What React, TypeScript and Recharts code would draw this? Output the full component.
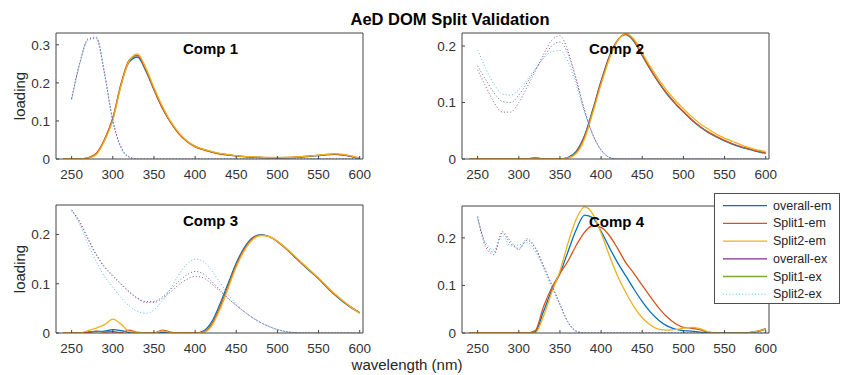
import React from 'react';
import { LineChart, Line, XAxis, YAxis } from 'recharts';

// wavelength grid (nm) shared by all components
const wavelengths = [
  240, 250, 260, 270, 280, 290, 300, 310, 320, 330, 340, 350, 360, 370, 380, 390, 400, 410, 420,
  430, 440, 450, 460, 470, 480, 490, 500, 510, 520, 530, 540, 550, 560, 570, 580, 590, 600,
];
const xTicks = [250, 300, 350, 400, 450, 500, 550, 600];

// Comp 1
const overallEm1 = [0, 0, 0, 0.003, 0.014, 0.05, 0.105, 0.195, 0.255, 0.268, 0.232, 0.182, 0.135, 0.098, 0.068, 0.047, 0.033, 0.025, 0.019, 0.014, 0.011, 0.008, 0.006, 0.005, 0.004, 0.003, 0.003, 0.003, 0.004, 0.005, 0.007, 0.009, 0.011, 0.012, 0.01, 0.006, 0.001];
const split1Em1 = [0, 0, 0, 0.003, 0.015, 0.052, 0.108, 0.198, 0.26, 0.272, 0.235, 0.183, 0.135, 0.097, 0.067, 0.046, 0.032, 0.024, 0.018, 0.013, 0.01, 0.008, 0.006, 0.005, 0.004, 0.003, 0.003, 0.004, 0.005, 0.006, 0.008, 0.01, 0.012, 0.013, 0.011, 0.007, 0.002];
const split2Em1 = [0, 0, 0, 0.002, 0.012, 0.048, 0.102, 0.192, 0.258, 0.276, 0.24, 0.188, 0.14, 0.1, 0.07, 0.048, 0.034, 0.026, 0.02, 0.015, 0.012, 0.009, 0.007, 0.006, 0.005, 0.004, 0.004, 0.004, 0.005, 0.006, 0.008, 0.01, 0.012, 0.014, 0.012, 0.008, 0.002];
const overallEx1 = [null, 0.158, 0.252, 0.314, 0.318, 0.224, 0.1, 0.03, 0.005, 0, 0, 0, 0, 0, 0, 0, 0, 0, 0, 0, 0, 0, 0, 0, 0, 0, 0, 0, 0, 0, 0, 0, 0, 0, 0, 0, 0];
const split1Ex1 = [null, 0.16, 0.254, 0.316, 0.32, 0.226, 0.102, 0.032, 0.006, 0, 0, 0, 0, 0, 0, 0, 0, 0, 0, 0, 0, 0, 0, 0, 0, 0, 0, 0, 0, 0, 0, 0, 0, 0, 0, 0, 0];
const split2Ex1 = [null, 0.155, 0.25, 0.312, 0.316, 0.222, 0.098, 0.028, 0.004, 0, 0, 0, 0, 0, 0, 0, 0, 0, 0, 0, 0, 0, 0, 0, 0, 0, 0, 0, 0, 0, 0, 0, 0, 0, 0, 0, 0];

// Comp 2
const overallEm2 = [0, 0, 0, 0, 0, 0, 0, 0, 0.002, 0, 0, 0, 0.003, 0.014, 0.042, 0.088, 0.138, 0.182, 0.21, 0.22, 0.208, 0.183, 0.158, 0.135, 0.115, 0.098, 0.083, 0.069, 0.057, 0.047, 0.039, 0.032, 0.026, 0.021, 0.017, 0.013, 0.01];
const split1Em2 = [0, 0, 0, 0, 0, 0, 0, 0, 0.002, 0, 0, 0, 0.002, 0.012, 0.04, 0.086, 0.136, 0.18, 0.21, 0.221, 0.209, 0.184, 0.159, 0.136, 0.116, 0.099, 0.084, 0.07, 0.058, 0.048, 0.04, 0.033, 0.027, 0.022, 0.018, 0.014, 0.011];
const split2Em2 = [0, 0, 0, 0, 0, 0, 0, 0, 0.001, 0, 0, 0, 0.002, 0.01, 0.036, 0.082, 0.132, 0.177, 0.209, 0.222, 0.212, 0.188, 0.163, 0.141, 0.121, 0.104, 0.089, 0.075, 0.063, 0.053, 0.044, 0.037, 0.031, 0.025, 0.02, 0.016, 0.013];
const overallEx2 = [null, 0.165, 0.14, 0.117, 0.102, 0.1, 0.113, 0.135, 0.158, 0.18, 0.2, 0.207, 0.185, 0.138, 0.085, 0.043, 0.016, 0.003, 0, 0, 0, 0, 0, 0, 0, 0, 0, 0, 0, 0, 0, 0, 0, 0, 0, 0, 0];
const split1Ex2 = [null, 0.158, 0.128, 0.1, 0.083, 0.083, 0.1, 0.127, 0.155, 0.185, 0.21, 0.218, 0.19, 0.14, 0.086, 0.043, 0.016, 0.003, 0, 0, 0, 0, 0, 0, 0, 0, 0, 0, 0, 0, 0, 0, 0, 0, 0, 0, 0];
const split2Ex2 = [null, 0.193, 0.16, 0.132, 0.115, 0.113, 0.123, 0.14, 0.16, 0.178, 0.19, 0.192, 0.172, 0.13, 0.082, 0.042, 0.015, 0.003, 0, 0, 0, 0, 0, 0, 0, 0, 0, 0, 0, 0, 0, 0, 0, 0, 0, 0, 0];

// Comp 3
const overallEm3 = [0, 0, 0, 0.002, 0.003, 0.004, 0.007, 0.005, 0.001, 0, 0, 0, 0.001, 0, 0, 0, 0, 0.004, 0.022, 0.058, 0.1, 0.142, 0.174, 0.194, 0.2, 0.196, 0.186, 0.172, 0.156, 0.14, 0.125, 0.11, 0.093, 0.077, 0.063, 0.051, 0.041];
const split1Em3 = [0, 0, 0, 0.001, 0.004, 0.002, 0.003, 0.001, 0.006, 0.001, 0, 0, 0.006, 0.002, 0, 0, 0, 0.002, 0.017, 0.052, 0.095, 0.138, 0.171, 0.192, 0.199, 0.196, 0.186, 0.172, 0.157, 0.141, 0.126, 0.111, 0.094, 0.078, 0.064, 0.052, 0.041];
const split2Em3 = [0, 0, 0, 0.005, 0.01, 0.017, 0.028, 0.018, 0.003, 0.001, 0, 0, 0.004, 0.001, 0, 0, 0, 0.001, 0.014, 0.047, 0.09, 0.134, 0.168, 0.19, 0.198, 0.196, 0.187, 0.173, 0.158, 0.142, 0.127, 0.112, 0.095, 0.079, 0.065, 0.052, 0.04];
const overallEx3 = [null, 0.25, 0.226, 0.192, 0.16, 0.135, 0.117, 0.1, 0.084, 0.071, 0.064, 0.064, 0.073, 0.088, 0.105, 0.118, 0.125, 0.12, 0.105, 0.088, 0.071, 0.056, 0.043, 0.031, 0.021, 0.013, 0.007, 0.003, 0.001, 0, 0, 0, 0, 0, 0, 0, 0];
const split1Ex3 = [null, 0.25, 0.224, 0.19, 0.158, 0.133, 0.115, 0.099, 0.083, 0.07, 0.062, 0.062, 0.07, 0.083, 0.098, 0.109, 0.115, 0.112, 0.1, 0.085, 0.07, 0.056, 0.043, 0.031, 0.021, 0.013, 0.007, 0.003, 0.001, 0, 0, 0, 0, 0, 0, 0, 0];
const split2Ex3 = [null, 0.248, 0.22, 0.18, 0.145, 0.115, 0.093, 0.072, 0.055, 0.044, 0.04, 0.047, 0.065, 0.09, 0.118, 0.14, 0.15, 0.145, 0.127, 0.103, 0.079, 0.059, 0.043, 0.031, 0.021, 0.013, 0.007, 0.003, 0.001, 0, 0, 0, 0, 0, 0, 0, 0];

// Comp 4
const overallEm4 = [0, 0, 0, 0, 0, 0, 0, 0, 0.003, 0.045, 0.09, 0.125, 0.172, 0.218, 0.248, 0.242, 0.214, 0.18, 0.148, 0.12, 0.092, 0.066, 0.044, 0.027, 0.015, 0.008, 0.005, 0.004, 0.002, 0.001, 0, 0, 0, 0, 0.001, 0.003, 0.008];
const split1Em4 = [0, 0, 0, 0, 0, 0, 0, 0, 0.005, 0.055, 0.095, 0.125, 0.152, 0.185, 0.212, 0.226, 0.222, 0.205, 0.178, 0.148, 0.125, 0.1, 0.076, 0.053, 0.034, 0.02, 0.012, 0.01, 0.007, 0.002, 0, 0, 0, 0, 0.001, 0.004, 0.009];
const split2Em4 = [0, 0, 0, 0, 0, 0, 0, 0, 0, 0.035, 0.085, 0.13, 0.19, 0.24, 0.265, 0.25, 0.21, 0.163, 0.12, 0.085, 0.055, 0.032, 0.017, 0.008, 0.006, 0.007, 0.01, 0.012, 0.009, 0.003, 0, 0, 0, 0, 0.001, 0.004, 0.008];
const overallEx4 = [null, 0.245, 0.185, 0.17, 0.21, 0.188, 0.178, 0.195, 0.178, 0.14, 0.1, 0.06, 0.022, 0.004, 0, 0, 0, 0, 0, 0, 0, 0, 0, 0, 0, 0, 0, 0, 0, 0, 0, 0, 0, 0, 0, 0, 0];
const split1Ex4 = [null, 0.243, 0.18, 0.165, 0.213, 0.193, 0.175, 0.198, 0.18, 0.142, 0.102, 0.061, 0.023, 0.004, 0, 0, 0, 0, 0, 0, 0, 0, 0, 0, 0, 0, 0, 0, 0, 0, 0, 0, 0, 0, 0, 0, 0];
const split2Ex4 = [null, 0.24, 0.19, 0.175, 0.205, 0.183, 0.185, 0.19, 0.172, 0.136, 0.097, 0.058, 0.021, 0.003, 0, 0, 0, 0, 0, 0, 0, 0, 0, 0, 0, 0, 0, 0, 0, 0, 0, 0, 0, 0, 0, 0, 0];

const series = [
  { key: 'overallEm', color: '#0072BD', dotted: false },
  { key: 'split1Em', color: '#D95319', dotted: false },
  { key: 'split2Em', color: '#EDB120', dotted: false },
  { key: 'overallEx', color: '#4a64a8', dotted: true },
  { key: 'split1Ex', color: '#a04f80', dotted: true },
  { key: 'split2Ex', color: '#5ab8e6', dotted: true },
];

const legendItems = [
  { name: 'overall-em', color: '#0072BD', dotted: false },
  { name: 'Split1-em', color: '#D95319', dotted: false },
  { name: 'Split2-em', color: '#EDB120', dotted: false },
  { name: 'overall-ex', color: '#7E2F8E', dotted: false },
  { name: 'Split1-ex', color: '#77AC30', dotted: false },
  { name: 'Split2-ex', color: '#4DBEEE', dotted: true },
];

const FONT = '"Liberation Sans", Arial, Helvetica, sans-serif';

function buildRows(em: number[][], ex: (number | null)[][]) {
  return wavelengths.map((wl, i) => ({
    wl,
    overallEm: em[0][i],
    split1Em: em[1][i],
    split2Em: em[2][i],
    overallEx: ex[0][i],
    split1Ex: ex[1][i],
    split2Ex: ex[2][i],
  }));
}

const panels = [
  { label: 'Comp 1', left: 56, top: 33, plotHeight: 126, yMax: 0.331, yTicks: [0, 0.1, 0.2, 0.3],
    rows: buildRows([overallEm1, split1Em1, split2Em1], [overallEx1, split1Ex1, split2Ex1]) },
  { label: 'Comp 2', left: 462, top: 33, plotHeight: 126, yMax: 0.223, yTicks: [0, 0.1, 0.2],
    rows: buildRows([overallEm2, split1Em2, split2Em2], [overallEx2, split1Ex2, split2Ex2]) },
  { label: 'Comp 3', left: 56, top: 205, plotHeight: 128, yMax: 0.26, yTicks: [0, 0.1, 0.2],
    rows: buildRows([overallEm3, split1Em3, split2Em3], [overallEx3, split1Ex3, split2Ex3]) },
  { label: 'Comp 4', left: 462, top: 206, plotHeight: 127, yMax: 0.267, yTicks: [0, 0.1, 0.2],
    rows: buildRows([overallEm4, split1Em4, split2Em4], [overallEx4, split1Ex4, split2Ex4]) },
];

const PLOT_W = 307;
const AXIS = '#444';
const tickStyle = { fontSize: 13.5, fill: '#333', fontFamily: FONT };

interface PanelProps {
  left: number
  top: number
  plotHeight: number
  yMax: number
  yTicks: number[]
  rows: Array<Record<string, number | null>>
}

function Panel({ left, top, plotHeight, yMax, yTicks, rows }: PanelProps) {
  return (
    <div style={{ position: 'absolute', left: left - 40, top: top - 10 }}>
      <LineChart
        width={40 + PLOT_W + 10}
        height={10 + plotHeight + 30}
        data={rows}
        margin={{ top: 0, right: 0, bottom: 0, left: 0 }}
      >
        <XAxis
          xAxisId="b"
          dataKey="wl"
          type="number"
          domain={[231, 604]}
          allowDataOverflow
          ticks={xTicks}
          interval={0}
          height={30}
          tickSize={-3}
          tickMargin={13}
          stroke={AXIS}
          tick={tickStyle}
        />
        <XAxis
          xAxisId="t"
          orientation="top"
          dataKey="wl"
          type="number"
          domain={[231, 604]}
          allowDataOverflow
          ticks={xTicks}
          interval={0}
          height={10}
          tickSize={-3}
          stroke={AXIS}
          tick={false}
        />
        <YAxis
          yAxisId="l"
          type="number"
          domain={[0, yMax]}
          allowDataOverflow
          ticks={yTicks}
          interval={0}
          width={40}
          tickSize={-3}
          tickMargin={9}
          stroke={AXIS}
          tick={tickStyle}
          tickFormatter={(v: number) => (v === 0 ? '0' : v.toFixed(1))}
        />
        <YAxis
          yAxisId="r"
          orientation="right"
          type="number"
          domain={[0, yMax]}
          allowDataOverflow
          ticks={yTicks}
          interval={0}
          width={10}
          tickSize={-3}
          stroke={AXIS}
          tick={false}
        />
        {series.map((s) => (
          <Line
            key={s.key}
            xAxisId="b"
            yAxisId="l"
            dataKey={s.key}
            type="monotone"
            stroke={s.color}
            strokeWidth={s.dotted ? 1 : 1.3}
            strokeDasharray={s.dotted ? '1 2.2' : undefined}
            dot={false}
            activeDot={false}
            isAnimationActive={false}
          />
        ))}
      </LineChart>
    </div>
  );
}

function Legend() {
  return (
    <div
      style={{
        position: 'absolute',
        left: 714,
        top: 193,
        width: 126,
        height: 111,
        boxSizing: 'border-box',
        border: '1px solid #4d4d4d',
        background: '#fff',
      }}
    >
      <svg width={124} height={109} style={{ display: 'block' }}>
        {legendItems.map((item, i) => {
          const y = 11.7 + i * 17.7;
          return (
            <g key={item.name}>
              <line
                x1={8}
                x2={52}
                y1={y}
                y2={y}
                stroke={item.color}
                strokeWidth={item.dotted ? 1 : 1.3}
                strokeDasharray={item.dotted ? '1 2.2' : undefined}
              />
              <text x={58} y={y} dominantBaseline="central" fontSize={12.5} fill="#262626" fontFamily={FONT}>
                {item.name}
              </text>
            </g>
          );
        })}
      </svg>
    </div>
  );
}

export default function App() {
  return (
    <div style={{ position: 'absolute', left: 0, top: 0, width: 841, height: 375, background: '#fff', overflow: 'hidden' }}>
      {panels.map((p) => (
        <Panel key={p.label} {...p} />
      ))}
      <svg width={841} height={375} style={{ position: 'absolute', left: 0, top: 0, pointerEvents: 'none' }}>
        <text x={450} y={19} textAnchor="middle" dominantBaseline="central" fontSize={16.5} fontWeight="bold" fill="#000" fontFamily={FONT}>
          AeD DOM Split Validation
        </text>
        {panels.map((p) => (
          <text
            key={p.label}
            x={p.left + PLOT_W / 2 + 1}
            y={p.top + 15}
            textAnchor="middle"
            dominantBaseline="central"
            fontSize={15}
            fontWeight="bold"
            fill="#000"
            fontFamily={FONT}
          >
            {p.label}
          </text>
        ))}
        <text x={19} y={96} transform="rotate(-90 19 96)" textAnchor="middle" dominantBaseline="central" fontSize={15} fill="#262626" fontFamily={FONT}>
          loading
        </text>
        <text x={19} y={269} transform="rotate(-90 19 269)" textAnchor="middle" dominantBaseline="central" fontSize={15} fill="#262626" fontFamily={FONT}>
          loading
        </text>
        <text x={407} y={364} textAnchor="middle" dominantBaseline="central" fontSize={15} fill="#262626" fontFamily={FONT}>
          wavelength (nm)
        </text>
      </svg>
      <Legend />
    </div>
  );
}
